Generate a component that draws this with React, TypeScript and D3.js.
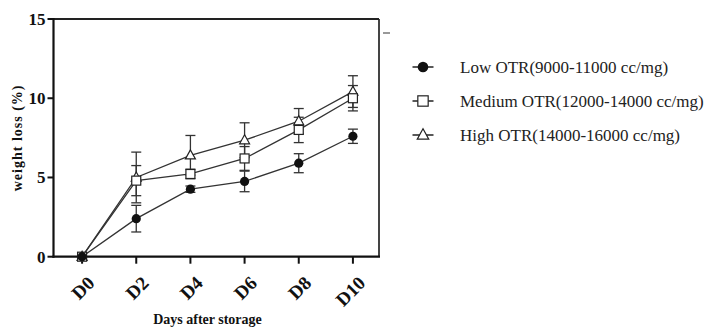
import React from "react";
import * as d3 from "d3";

const categories = ["D0", "D2", "D4", "D6", "D8", "D10"];
const lowValues = [0, 2.4, 4.26, 4.75, 5.9, 7.6];
const lowErrors = [0, 0.84, 0.2, 0.65, 0.6, 0.45];
const mediumValues = [0, 4.8, 5.22, 6.2, 8.0, 10.0];
const mediumErrors = [0, 0.95, 0.3, 0.75, 0.8, 0.8];
const highValues = [0, 5.0, 6.4, 7.35, 8.55, 10.42];
const highErrors = [0, 1.6, 1.25, 1.1, 0.8, 1.0];
const yTicks = [0, 5, 10, 15];
const seriesNames = [
  "Low OTR(9000-11000 cc/mg)",
  "Medium OTR(12000-14000 cc/mg)",
  "High OTR(14000-16000 cc/mg)",
];

const W = 710;
const H = 329;
const left = 53.5;
const right = 379;
const top = 19;
const bottom = 256.7;

const serif = "Liberation Serif";
const lineColor = "#333";

function Marker({ kind, x, y, legend }: { kind: string; x: number; y: number; legend?: boolean }) {
  const s = legend ? 1.15 : 1;
  if (kind === "circle") return <circle cx={x} cy={y} r={4.6 * s} fill="#111" />;
  if (kind === "square")
    return (
      <rect x={x - 4.5 * s} y={y - 4.5 * s} width={9 * s} height={9 * s} fill="#fff" stroke="#222" strokeWidth={1.2} />
    );
  const h = 9 * s;
  const w = 10 * s;
  const pts = `${x},${y - h * 0.6} ${x - w / 2},${y + h * 0.4} ${x + w / 2},${y + h * 0.4}`;
  return <polygon points={pts} fill="#fff" stroke="#222" strokeWidth={1.2} />;
}

export default function App() {
  const x = d3.scalePoint<string>().domain(categories).range([55, 380]).padding(0.5);
  const y = d3.scaleLinear().domain([0, 15]).range([bottom, top]);
  const line = d3
    .line<number>()
    .x((_, i) => x(categories[i]) as number)
    .y((d) => y(d));

  const series = [
    { name: seriesNames[0], values: lowValues, errors: lowErrors, kind: "circle" },
    { name: seriesNames[1], values: mediumValues, errors: mediumErrors, kind: "square" },
    { name: seriesNames[2], values: highValues, errors: highErrors, kind: "triangle" },
  ];
  const drawOrder = [series[2], series[1], series[0]];

  const legendY = [67, 101, 135];

  return (
    <svg width={W} height={H} style={{ position: "absolute", left: 0, top: 0, background: "#fff" }}>
      <rect width={W} height={H} fill="#fff" />
      {/* frame */}
      <line x1={right} y1={top} x2={right} y2={bottom} stroke="#444" strokeWidth={2} />
      <line x1={left} y1={top} x2={right} y2={top} stroke="#222" strokeWidth={2} />
      <line x1={left} y1={top - 1} x2={left} y2={bottom + 1} stroke="#111" strokeWidth={2.2} />
      <line x1={left - 1} y1={bottom} x2={right + 1} y2={bottom} stroke="#111" strokeWidth={2.2} />
      <line x1={383} y1={33} x2={390} y2={33} stroke="#777" strokeWidth={1.5} />

      {/* y ticks */}
      {yTicks.map((t) => (
        <g key={t}>
          <line x1={left - 6} x2={left} y1={y(t)} y2={y(t)} stroke="#111" strokeWidth={2} />
          <text
            x={left - 8}
            y={y(t)}
            dy="0.35em"
            textAnchor="end"
            fontFamily={serif}
            fontWeight="bold"
            fontSize={17}
            fill="#111"
          >
            {t}
          </text>
        </g>
      ))}

      {/* x ticks */}
      {categories.map((c) => {
        const cx = x(c) as number;
        return (
          <g key={c}>
            <line x1={cx} x2={cx} y1={bottom} y2={bottom + 7} stroke="#111" strokeWidth={2} />
            <text
              transform={`translate(${cx + 4},${bottom + 18}) rotate(-45)`}
              textAnchor="end"
              dy="0.72em"
              fontFamily={serif}
              fontWeight="bold"
              fontSize={19}
              fill="#111"
            >
              {c}
            </text>
          </g>
        );
      })}

      <text
        x={207.5}
        y={324}
        textAnchor="middle"
        fontFamily={serif}
        fontWeight="bold"
        fontSize={14}
        fill="#111"
      >
        Days after storage
      </text>
      <text
        transform={`translate(22,${(top + bottom) / 2}) rotate(-90)`}
        textAnchor="middle"
        fontFamily={serif}
        fontWeight="bold"
        fontSize={14}
        letterSpacing={1}
        fill="#111"
      >
        weight loss (%)
      </text>

      {/* lines */}
      {drawOrder.map((s) => (
        <path key={s.name + "l"} d={line(s.values) || ""} fill="none" stroke={lineColor} strokeWidth={1.3} />
      ))}
      {/* error bars */}
      {drawOrder.map((s) =>
        s.values.map((v, i) => {
          const e = s.errors[i];
          if (e <= 0) return null;
          const cx = x(categories[i]) as number;
          return (
            <g key={s.name + "e" + i} stroke="#333" strokeWidth={1.3}>
              <line x1={cx} x2={cx} y1={y(v - e)} y2={y(v + e)} />
              <line x1={cx - 5} x2={cx + 5} y1={y(v - e)} y2={y(v - e)} />
              <line x1={cx - 5} x2={cx + 5} y1={y(v + e)} y2={y(v + e)} />
            </g>
          );
        })
      )}
      {/* markers */}
      {drawOrder.map((s) =>
        s.values.map((v, i) => (
          <Marker key={s.name + "m" + i} kind={s.kind} x={x(categories[i]) as number} y={y(v)} />
        ))
      )}

      {/* legend */}
      {series.map((s, i) => (
        <g key={s.name + "lg"}>
          <line x1={412.5} x2={433.5} y1={legendY[i]} y2={legendY[i]} stroke="#222" strokeWidth={1.5} />
          <Marker kind={s.kind} x={423} y={legendY[i]} legend />
          <text
            x={460}
            y={legendY[i]}
            dy="0.33em"
            fontFamily={serif}
            fontSize={17}
            fill="#222"
          >
            {s.name}
          </text>
        </g>
      ))}
    </svg>
  );
}
